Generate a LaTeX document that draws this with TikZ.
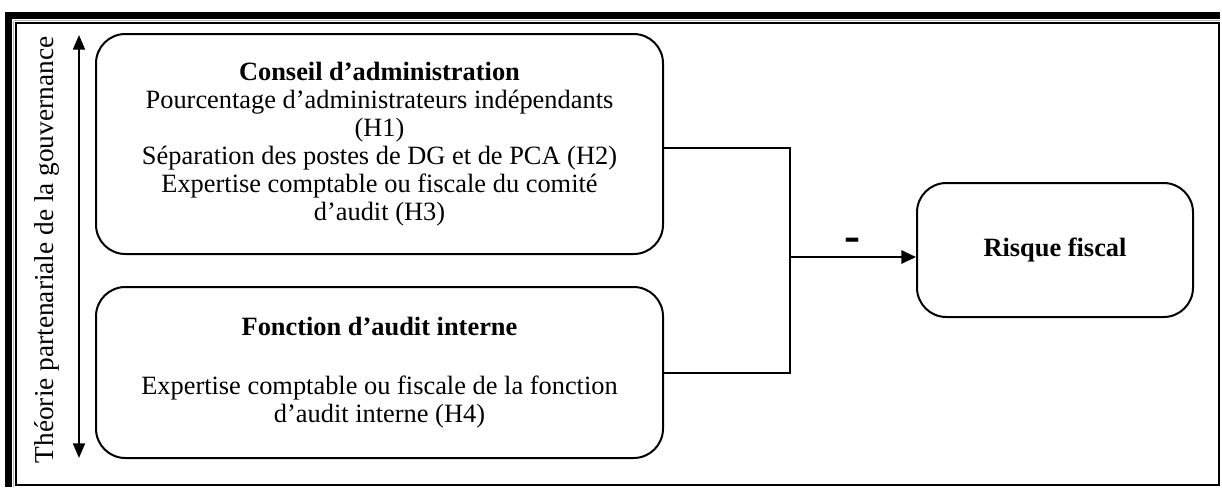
\documentclass[tikz,border=0pt]{standalone}
\usepackage{fontspec}
\setmainfont{Liberation Serif}
\usetikzlibrary{arrows.meta}
\tikzset{
  rbox/.style={draw, line width=1.5pt, rounded corners=22pt, align=center,
    font=\fontsize{19.8}{21}\selectfont, inner sep=0pt},
  conn/.style={line width=1.5pt},
  tip/.style={-{Triangle[length=11pt,width=10pt]}},
}
\begin{document}
\begin{tikzpicture}[x=0.75pt,y=-0.75pt]
\useasboundingbox (0,0) rectangle (1222,487);
% frame
\fill (5,12) rectangle (1220,19);
\fill (5,12) rectangle (12,487);
\draw[line width=0.9pt] (16,23) rectangle (1219,485);
\draw[black!30, line width=0.5pt] (13.5,20.5) -- (1220,20.5);
\draw[black!30, line width=0.5pt] (13.5,20.5) -- (13.5,487);
% boxes
\node[rbox, minimum width=425.25pt, minimum height=165pt] (ca) at (379.5,144)
  {\textbf{Conseil d’administration}\\
   Pourcentage d’administrateurs indépendants\\
   (H1)\\
   Séparation des postes de DG et de PCA (H2)\\
   Expertise comptable ou fiscale du comité\\
   d’audit (H3)};
\node[rbox, minimum width=425.25pt, minimum height=128.25pt] (fa) at (379.5,372.5)
  {\textbf{Fonction d’audit interne}\\[23pt]
   Expertise comptable ou fiscale de la fonction\\
   d’audit interne (H4)};
\node[rbox, minimum width=207pt, minimum height=100.5pt] (rf) at (1055,250)
  {\textbf{Risque fiscal}};
% side arrow and label
\coordinate (t1) at (79,35);
\coordinate (t2) at (79,458);
\draw[conn, {Triangle[length=11pt,width=9pt]}-{Triangle[length=11pt,width=9pt]}] (t2) -- (t1);
\node[rotate=90, font=\fontsize{20.5}{22}\selectfont] (th) at (47,250)
  {Théorie partenariale de la gouvernance};
% connectors
\coordinate (j1) at (790,148);
\coordinate (j2) at (790,373);
\coordinate (jm) at (790,257);
\draw[conn] (ca.east |- j1) -- (j1) -- (j2) -- (fa.east |- j2);
\draw[conn, tip] (jm) -- (jm -| rf.west);
\node[font=\fontsize{36}{38}\bfseries] (minus) at (852,245) {-};
\end{tikzpicture}
\end{document}
